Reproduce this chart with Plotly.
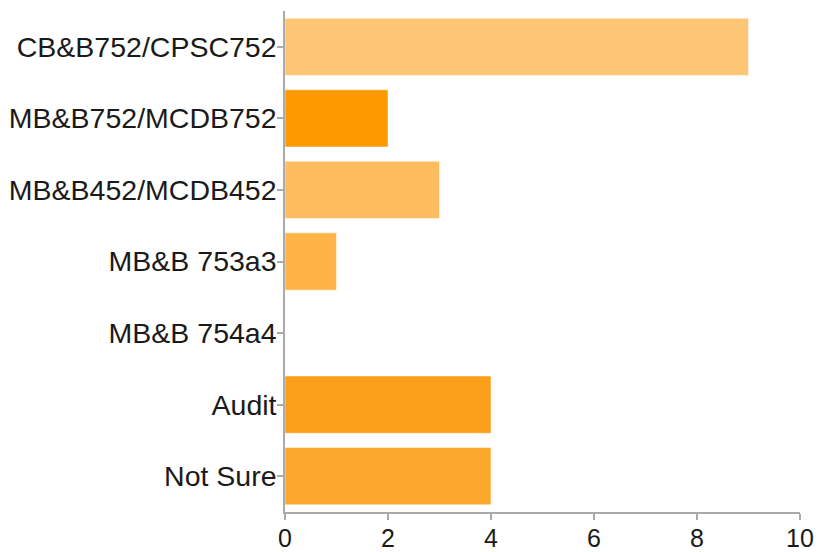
import plotly.graph_objects as go

categories = ["CB&B752/CPSC752", "MB&B752/MCDB752", "MB&B452/MCDB452",
              "MB&B 753a3", "MB&B 754a4", "Audit", "Not Sure"]
values = [9, 2, 3, 1, 0, 4, 4]
colors = ["#FEC574", "#FF9900", "#FEBC5F", "#FFB448", "#FFAA33", "#FB9F1A", "#FCA82E"]
x_ticks = [0, 2, 4, 6, 8, 10]

fig = go.Figure(go.Bar(
    y=categories, x=values, orientation="h",
    marker=dict(color=colors, line=dict(color="rgba(255,255,255,0.5)", width=1)),
    hoverinfo="x+y",
))

fig.update_layout(
    width=819, height=552,
    margin=dict(l=285, r=19, t=11, b=40, autoexpand=False),
    paper_bgcolor="white", plot_bgcolor="white",
    font=dict(family="Liberation Sans, Arial, Helvetica, sans-serif", size=28, color="#1a1a1a"),
    bargap=0.2,
    showlegend=False,
)
fig.update_xaxes(
    range=[0, 10], tickvals=x_ticks, showgrid=False, zeroline=False, automargin=False,
    showline=True, linecolor="#AAAAAA", linewidth=1.5,
    ticks="outside", ticklen=6, tickcolor="#AAAAAA", tickwidth=1.5,
    tickfont=dict(size=25), ticklabelstandoff=-3,
)
fig.update_yaxes(
    categoryorder="array", categoryarray=categories, autorange="reversed",
    showgrid=False, zeroline=False, automargin=False,
    showline=True, linecolor="#AAAAAA", linewidth=1.5,
    ticks="outside", ticklen=6, tickcolor="#AAAAAA", tickwidth=1.5,
    tickfont=dict(size=28.5), ticklabelstandoff=-5,
)

# remove the default page margin so the 819x552 figure fills the window exactly
fig.write_html(
    "out.html",
    config={"displayModeBar": False},
    post_script="document.body.style.margin='0';document.body.style.overflow='hidden';",
)
